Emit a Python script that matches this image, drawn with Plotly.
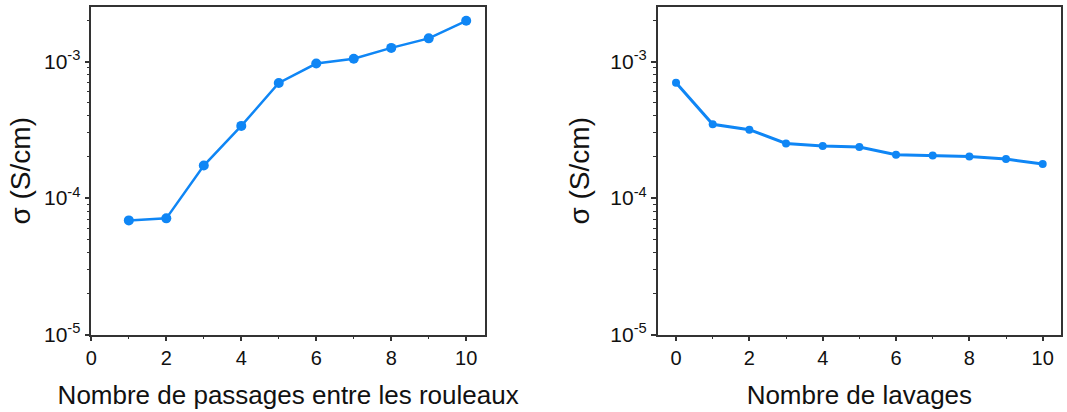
import plotly.graph_objects as go
from plotly.subplots import make_subplots

# Data
passages = [1, 2, 3, 4, 5, 6, 7, 8, 9, 10]
sigma_passages = [6.86e-5, 7.1e-5, 1.73e-4, 3.38e-4, 6.97e-4, 9.67e-4, 1.05e-3, 1.26e-3, 1.48e-3, 1.99e-3]

lavages = [0, 1, 2, 3, 4, 5, 6, 7, 8, 9, 10]
sigma_lavages = [7.0e-4, 3.47e-4, 3.17e-4, 2.51e-4, 2.41e-4, 2.37e-4, 2.08e-4, 2.05e-4, 2.02e-4, 1.93e-4, 1.78e-4]

ytick_vals = [1e-5, 1e-4, 1e-3]
ytick_text = ["10<sup>-5</sup>", "10<sup>-4</sup>", "10<sup>-3</sup>"]
yminor_vals = [m * 10 ** e for e in (-5, -4, -3) for m in range(2, 10)]

xlabel_left = "Nombre de passages entre les rouleaux"
xlabel_right = "Nombre de lavages"
ylabel = "σ (S/cm)"

COLOR = "#0f86f5"
FONT = "Liberation Sans, Arial, sans-serif"

fig = make_subplots(rows=1, cols=2)

fig.add_trace(go.Scatter(x=passages, y=sigma_passages, mode="lines+markers",
                         line=dict(color=COLOR, width=2.5),
                         marker=dict(color=COLOR, size=10), showlegend=False), row=1, col=1)
fig.add_trace(go.Scatter(x=lavages, y=sigma_lavages, mode="lines+markers",
                         line=dict(color=COLOR, width=3),
                         marker=dict(color=COLOR, size=8), showlegend=False), row=1, col=2)

common_x = dict(showline=True, linecolor="#333", linewidth=1.5, mirror=True,
                ticks="outside", ticklen=5, tickwidth=1.5, tickcolor="#333",
                showgrid=False, zeroline=False, tickmode="array",
                tickvals=[0, 2, 4, 6, 8, 10],
                minor=dict(ticks="outside", ticklen=3, tickwidth=1.2, tickcolor="#333",
                           tickvals=[1, 3, 5, 7, 9], showgrid=False),
                tickfont=dict(size=20, color="#111", family=FONT),
                title_font=dict(size=26, color="#111", family=FONT),
                title_standoff=18, automargin=False)
common_y = dict(type="log", range=[-5, -2.6], showline=True, linecolor="#333", linewidth=1.5,
                mirror=True, ticks="outside", ticklen=5, tickwidth=1.5, tickcolor="#333",
                showgrid=False, zeroline=False, tickmode="array",
                tickvals=ytick_vals, ticktext=ytick_text,
                minor=dict(ticks="outside", ticklen=3, tickwidth=1.2, tickcolor="#333",
                           tickvals=yminor_vals, showgrid=False),
                tickfont=dict(size=21, color="#111", family=FONT),
                title_text=ylabel, title_font=dict(size=28, color="#111", family=FONT),
                title_standoff=6, automargin=False)

fig.update_xaxes(**common_x)
fig.update_yaxes(**common_y)
fig.update_xaxes(range=[0, 10.5], domain=[0.0856, 0.4545], title_text=xlabel_left, row=1, col=1)
fig.update_xaxes(range=[-0.5, 10.5], domain=[0.6164, 0.9944], title_text=xlabel_right, row=1, col=2)
fig.update_yaxes(domain=[0.188, 0.983])
fig.update_yaxes(title_standoff=5, row=1, col=1)
fig.update_yaxes(title_standoff=13, row=1, col=2)

fig.update_layout(width=1067, height=412, margin=dict(l=0, r=0, t=0, b=0),
                  paper_bgcolor="white", plot_bgcolor="white",
                  font=dict(family=FONT, color="#111"))

fig.write_html("out.html", config={"displayModeBar": False},
               post_script="document.body.style.margin='0px';")
